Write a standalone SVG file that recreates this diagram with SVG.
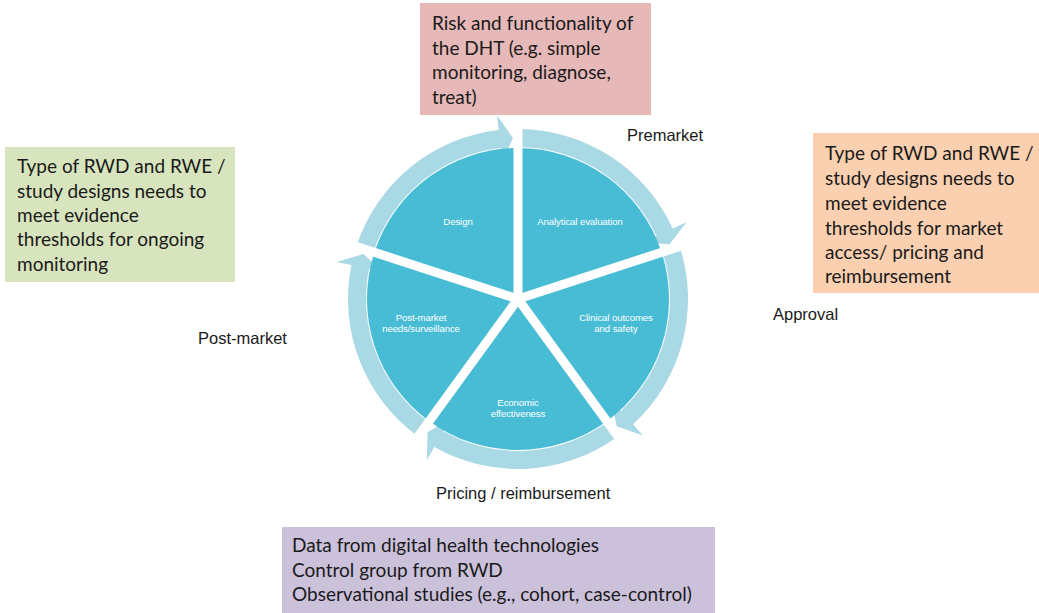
<svg xmlns="http://www.w3.org/2000/svg" xmlns:xlink="http://www.w3.org/1999/xlink" width="1039" height="613" viewBox="0 0 1039 613">
<style>
.box-text{font-family:Lato,"Open Sans","Liberation Sans",sans-serif;font-size:19px;fill:#1a1a1a}
.stage{font-family:"Liberation Sans",Arial,sans-serif;font-size:16.5px;fill:#1a1a1a}
.wedge-label{font-family:"Liberation Sans",Arial,sans-serif;font-size:9.6px;fill:#ffffff;text-anchor:middle;letter-spacing:-0.1px}
.wedge{fill:#48bcd5}
.ring{fill:#a9d9e5}
.gap{stroke:#ffffff;stroke-width:9}
</style>
<defs>
<path id="wedge" d="M518,299 L374.39,252.34 A151,151 0 0 1 518,148 Z"/>
<path id="arrow" d="M356.32,246.47 A170,170 0 0 1 498.76,130.09 L497.06,115.19 L512.94,138.08 L502.38,161.89 L500.79,147.98 A152,152 0 0 0 373.44,252.03 Z"/>
<line id="gapline" x1="518" y1="299" x2="518" y2="110"/>
</defs>
<rect width="1039" height="613" fill="#ffffff"/>

<g id="connectors">
<use xlink:href="#arrow" href="#arrow" class="ring"/>
<use xlink:href="#arrow" href="#arrow" class="ring" transform="rotate(72 518 299)"/>
<use xlink:href="#arrow" href="#arrow" class="ring" transform="rotate(144 518 299)"/>
<use xlink:href="#arrow" href="#arrow" class="ring" transform="rotate(216 518 299)"/>
<use xlink:href="#arrow" href="#arrow" class="ring" transform="rotate(288 518 299)"/>
</g>

<g id="node-design">
<use xlink:href="#wedge" href="#wedge" class="wedge"/>
<text class="wedge-label" x="458" y="225">Design</text>
</g>
<g id="node-analytical">
<use xlink:href="#wedge" href="#wedge" class="wedge" transform="rotate(72 518 299)"/>
<text class="wedge-label" x="580" y="225">Analytical evaluation</text>
</g>
<g id="node-clinical">
<use xlink:href="#wedge" href="#wedge" class="wedge" transform="rotate(144 518 299)"/>
<text class="wedge-label" x="616" y="321">Clinical outcomes</text>
<text class="wedge-label" x="616" y="332">and safety</text>
</g>
<g id="node-economic">
<use xlink:href="#wedge" href="#wedge" class="wedge" transform="rotate(216 518 299)"/>
<text class="wedge-label" x="518" y="406">Economic</text>
<text class="wedge-label" x="518" y="417">effectiveness</text>
</g>
<g id="node-postmarket">
<use xlink:href="#wedge" href="#wedge" class="wedge" transform="rotate(288 518 299)"/>
<text class="wedge-label" x="421" y="321">Post-market</text>
<text class="wedge-label" x="421" y="332">needs/surveillance</text>
</g>

<g id="gaps" class="gap">
<use xlink:href="#gapline" href="#gapline"/>
<use xlink:href="#gapline" href="#gapline" transform="rotate(72 518 299)"/>
<use xlink:href="#gapline" href="#gapline" transform="rotate(144 518 299)"/>
<use xlink:href="#gapline" href="#gapline" transform="rotate(216 518 299)"/>
<use xlink:href="#gapline" href="#gapline" transform="rotate(288 518 299)"/>
</g>

<g id="stage-labels">
<text class="stage" x="627" y="141">Premarket</text>
<text class="stage" x="773" y="320">Approval</text>
<text class="stage" x="198" y="344">Post-market</text>
<text class="stage" x="436" y="499">Pricing / reimbursement</text>
</g>

<g id="box-risk">
<rect x="420" y="3" width="231" height="112" fill="#e6b8b8"/>
<text class="box-text"><tspan x="432" y="30">Risk and functionality of</tspan><tspan x="432" y="55">the DHT (e.g. simple</tspan><tspan x="432" y="79">monitoring, diagnose,</tspan><tspan x="432" y="104">treat)</tspan></text>
</g>
<g id="box-ongoing">
<rect x="5" y="147" width="230" height="135" fill="#d7e4bd"/>
<text class="box-text"><tspan x="17" y="173">Type of RWD and RWE /</tspan><tspan x="17" y="198">study designs needs to</tspan><tspan x="17" y="222">meet evidence</tspan><tspan x="17" y="246">thresholds for ongoing</tspan><tspan x="17" y="271">monitoring</tspan></text>
</g>
<g id="box-market">
<rect x="813" y="133" width="226" height="160" fill="#fad0b0"/>
<text class="box-text"><tspan x="825" y="160">Type of RWD and RWE /</tspan><tspan x="825" y="185">study designs needs to</tspan><tspan x="825" y="210">meet evidence</tspan><tspan x="825" y="235">thresholds for market</tspan><tspan x="825" y="259">access/ pricing and</tspan><tspan x="825" y="283">reimbursement</tspan></text>
</g>
<g id="box-data">
<rect x="282" y="527" width="433" height="86" fill="#ccc1da"/>
<text class="box-text"><tspan x="292" y="552">Data from digital health technologies</tspan><tspan x="292" y="577">Control group from RWD</tspan><tspan x="292" y="601">Observational studies (e.g., cohort, case-control)</tspan></text>
</g>
</svg>
